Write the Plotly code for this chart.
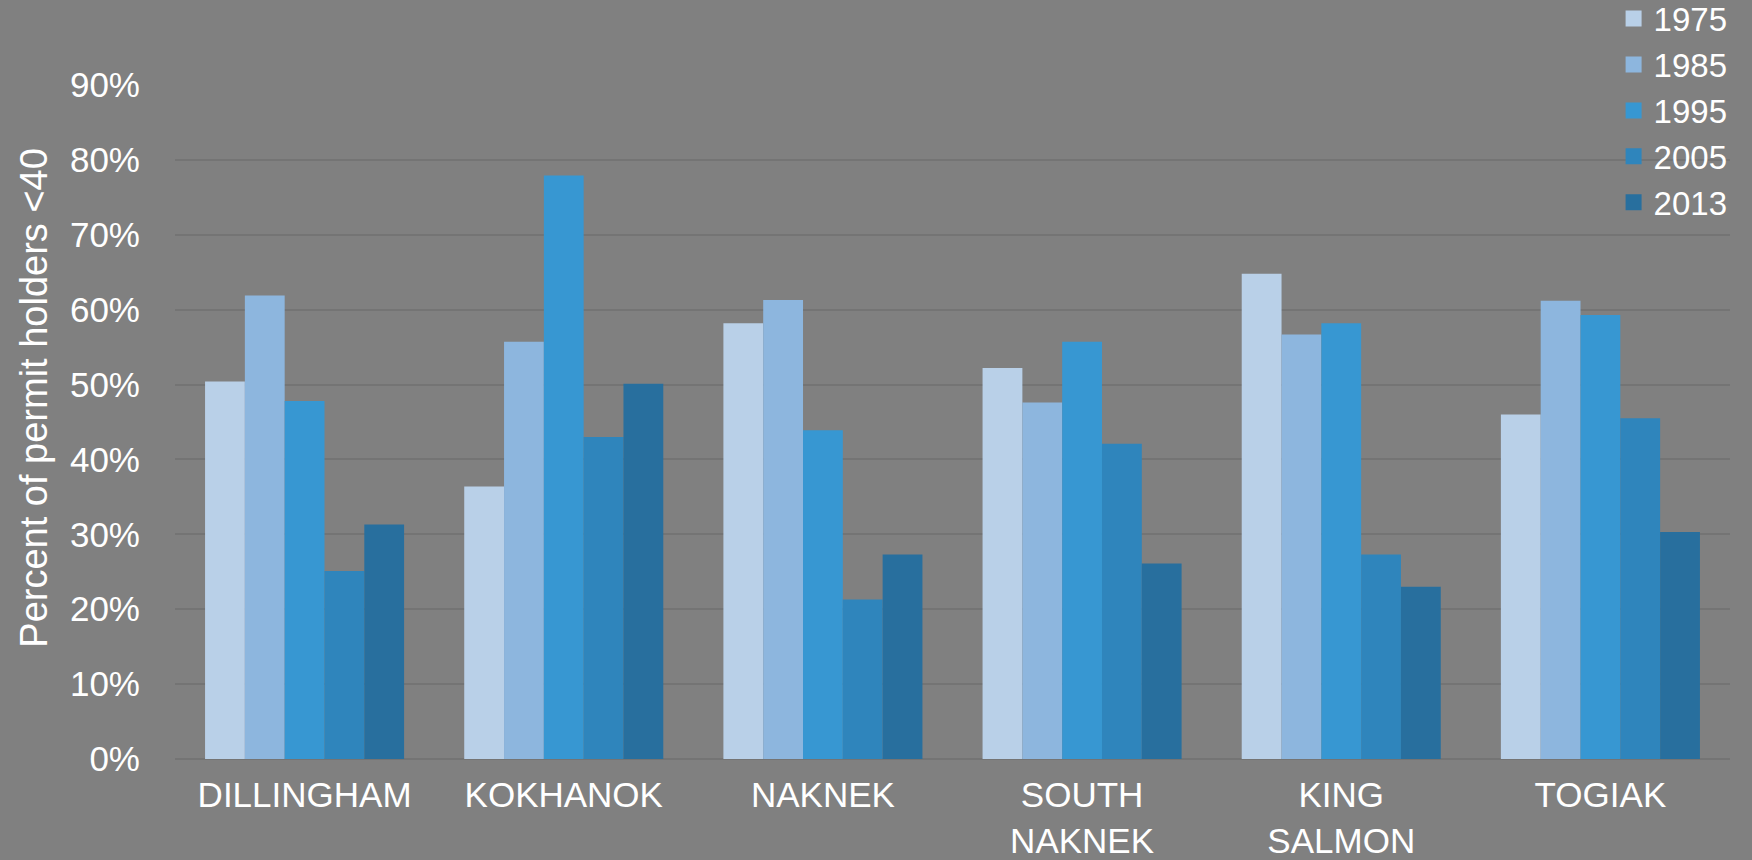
import plotly.graph_objects as go

# communities on the x axis
communities = ["DILLINGHAM", "KOKHANOK", "NAKNEK", "SOUTH<br>NAKNEK", "KING<br>SALMON", "TOGIAK"]

# share of permit holders under 40 (fraction), one list per year
y1975 = [0.504, 0.364, 0.582, 0.522, 0.648, 0.460]
y1985 = [0.619, 0.557, 0.613, 0.476, 0.567, 0.612]
y1995 = [0.478, 0.779, 0.439, 0.557, 0.582, 0.593]
y2005 = [0.251, 0.430, 0.213, 0.421, 0.273, 0.455]
y2013 = [0.313, 0.501, 0.273, 0.261, 0.230, 0.303]

years = ["1975", "1985", "1995", "2005", "2013"]
series = [y1975, y1985, y1995, y2005, y2013]
colors = ["#B9D0E8", "#8DB6DE", "#3797D2", "#2F85BC", "#286F9E"]

BG = "#808080"
FONT = "Liberation Sans, Arial, sans-serif"

fig = go.Figure()
for yr, vals, col in zip(years, series, colors):
    fig.add_trace(go.Bar(x=communities, y=vals, name=yr, showlegend=False,
                         legendgroup=yr,
                         marker=dict(color=col, line=dict(width=0))))

# legend keys: square markers, larger than the default bar swatch
for yr, col in zip(years, colors):
    fig.add_trace(go.Scatter(x=[None], y=[None], mode="markers", name=yr,
                             legendgroup=yr,
                             marker=dict(symbol="square", size=19, color=col)))

fig.update_layout(
    width=1752, height=860,
    paper_bgcolor=BG, plot_bgcolor=BG,
    barmode="group", bargap=0.232, bargroupgap=0,
    margin=dict(l=175, r=22, t=85, b=101, autoexpand=False),
    font=dict(family=FONT, color="white", size=35),
    legend=dict(xref="container", yref="paper", x=0.921, y=1.14,
                xanchor="left", yanchor="top",
                font=dict(size=33, color="white"),
                bgcolor="rgba(0,0,0,0)", tracegroupgap=0,
                itemsizing="trace", itemwidth=30),
    showlegend=True,
)

fig.update_yaxes(range=[0, 0.9], dtick=0.1, tickformat=".0%",
                 showgrid=True, gridcolor="#747474", gridwidth=1.5,
                 zeroline=True, zerolinecolor="#747474", zerolinewidth=1.5,
                 showline=False, ticks="", ticklabelstandoff=34,
                 tickfont=dict(size=35, color="white"))
fig.update_xaxes(showgrid=False, showline=False, ticks="",
                 ticklabelstandoff=12,
                 tickfont=dict(size=35, color="white"))

# y axis title placed as rotated text
fig.add_annotation(text="Percent of permit holders <40", textangle=-90,
                   xref="paper", yref="paper", x=-0.0907, y=0.536,
                   xanchor="center", yanchor="middle", showarrow=False,
                   font=dict(size=38, color="white", family=FONT))

fig.write_html("out.html", config={"displayModeBar": False},
               post_script="document.body.style.margin='0';"
                           "document.body.style.background='#808080';")
